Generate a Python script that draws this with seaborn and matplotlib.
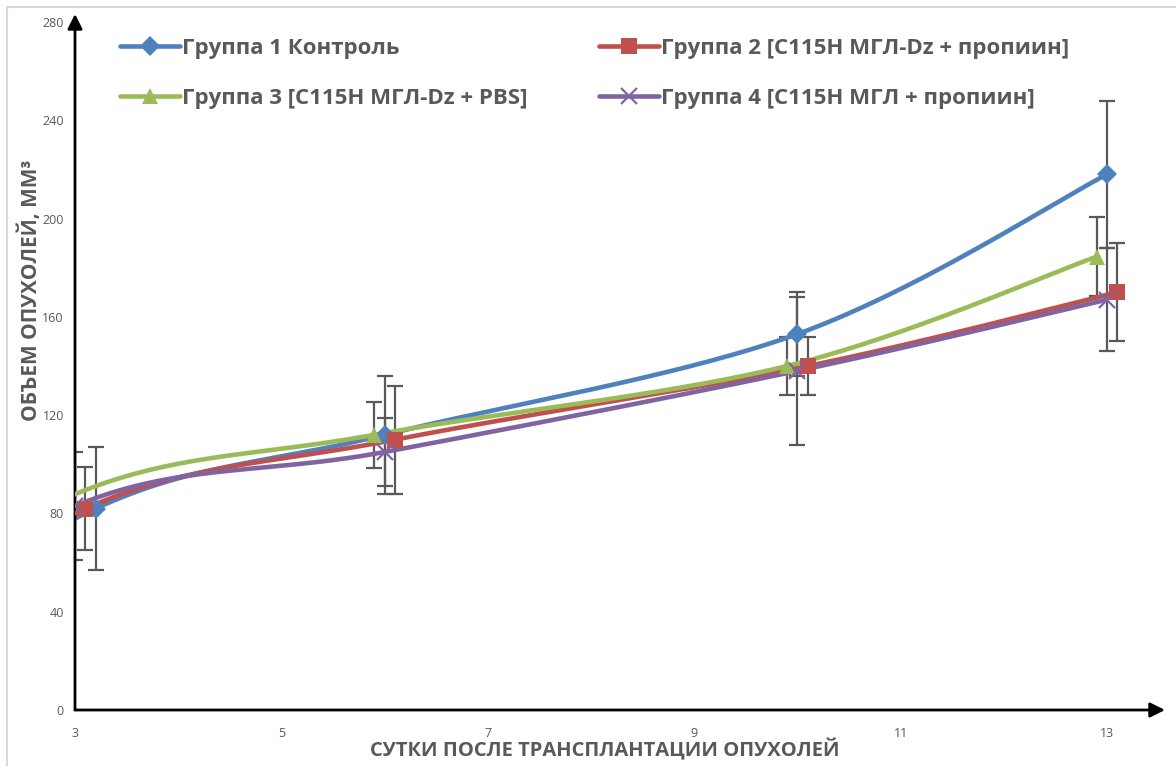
import numpy as np
import matplotlib
matplotlib.use("Agg")
import matplotlib.pyplot as plt
from matplotlib.lines import Line2D
from matplotlib.patches import Rectangle
import seaborn as sns

# ---- data ----
# day 0 (volume 0) lies left of the visible axis range; it only shapes the smoothed curves
labels = ["Группа 1 Контроль",
          "Группа 2 [C115H МГЛ-Dz + пропиин]",
          "Группа 3 [C115H МГЛ-Dz + PBS]",
          "Группа 4 [C115H МГЛ + пропиин]"]
days_g1 = [0.2, 3.2, 6.0, 10.0, 13.0]
vol_g1 = [0, 82, 112, 153, 218]
err_g1 = [0, 25, 24, 17, 30]
days_g2 = [0.1, 3.1, 6.1, 10.1, 13.1]
vol_g2 = [0, 82, 110, 140, 170]
err_g2 = [0, 17, 22, 12, 20]
days_g3 = [-0.1, 2.9, 5.9, 9.9, 12.9]
vol_g3 = [0, 86, 112, 140, 184.5]
err_g3 = [0, 15, 13.5, 12, 16]
days_g4 = [0.0, 3.0, 6.0, 10.0, 13.0]
vol_g4 = [0, 83, 105, 138, 167]
err_g4 = [0, 22, 14, 30, 21]
x_ticks = [3, 5, 7, 9, 11, 13]
y_ticks = [0, 40, 80, 120, 160, 200, 240, 280]

colors = ["#4F81BD", "#C0504D", "#9BBB59", "#8064A2"]
markers = ["D", "s", "^", "x"]
msizes = [10, 11, 11, 11]

sns.set_theme(style="white")
plt.rcParams["font.family"] = ["Open Sans", "DejaVu Sans"]

W, H = 1176, 766
fig = plt.figure(figsize=(W / 100, H / 100), dpi=100)
ax_l, ax_r, ax_t, ax_b = 75, 1150, 22, 710
ax = fig.add_axes([ax_l / W, 1 - ax_b / H, (ax_r - ax_l) / W, (ax_b - ax_t) / H])
xmax = 3 + (ax_r - ax_l) / 103.2
ax.set_xlim(3, xmax)
ax.set_ylim(0, 280)

SX, SY = 103.2, 2.457  # pixels per data unit, smoothing done in screen space


def smooth(xs, ys, n=60):
    P = np.column_stack([np.asarray(xs, float) * SX, np.asarray(ys, float) * SY])
    ext = np.vstack([P[0], P, P[-1]])
    out = []
    t = np.linspace(0, 1, n)[:, None]
    for i in range(len(P) - 1):
        p0, p3 = P[i], P[i + 1]
        p1 = p0 + (ext[i + 2] - ext[i]) / 6.0
        p2 = p3 - (ext[i + 3] - ext[i + 1]) / 6.0
        seg = ((1 - t) ** 3) * p0 + 3 * ((1 - t) ** 2) * t * p1 + 3 * (1 - t) * t ** 2 * p2 + t ** 3 * p3
        out.append(seg if i == 0 else seg[1:])
    C = np.vstack(out)
    return C[:, 0] / SX, C[:, 1] / SY


series = [(days_g1, vol_g1, err_g1), (days_g2, vol_g2, err_g2),
          (days_g3, vol_g3, err_g3), (days_g4, vol_g4, err_g4)]

for i, (xs, ys, es) in enumerate(series):
    ax.errorbar(xs, ys, yerr=es, fmt="none", ecolor="#595959", elinewidth=1.6,
                capsize=6, capthick=1.6, zorder=2)

for i, (xs, ys, es) in enumerate(series):
    sx, sy = smooth(xs, ys)
    sns.lineplot(x=sx, y=sy, sort=False, estimator=None, color=colors[i],
                 linewidth=3.3, ax=ax, zorder=3 + i * 0.1)

for i, (xs, ys, es) in enumerate(series):
    if markers[i] == "x":
        ax.plot(xs, ys, linestyle="none", marker="x", markersize=msizes[i],
                markeredgewidth=1.6, color=colors[i], zorder=4 + i * 0.1)
    else:
        ax.plot(xs, ys, linestyle="none", marker=markers[i], markersize=msizes[i],
                color=colors[i], markeredgewidth=0, zorder=4 + i * 0.1)

# axes styling
for s in ax.spines.values():
    s.set_visible(False)
ax.set_xticks(x_ticks)
ax.set_yticks(y_ticks)
ax.tick_params(axis="both", length=0, labelsize=9, labelcolor="#595959")
ax.tick_params(axis="x", pad=12)
ax.tick_params(axis="y", pad=8)
ax.grid(False)
ax.set_xlabel("")
ax.set_ylabel("")

# arrows for the axes
ax.annotate("", xy=(1 + 15 / (ax_r - ax_l), 0), xytext=(0, 0), xycoords="axes fraction",
            arrowprops=dict(arrowstyle="-|>", lw=2, color="black", mutation_scale=22,
                            shrinkA=0, shrinkB=0), annotation_clip=False)
ax.annotate("", xy=(0, 1 + 8 / (ax_b - ax_t)), xytext=(0, 0), xycoords="axes fraction",
            arrowprops=dict(arrowstyle="-|>", lw=2, color="black", mutation_scale=22,
                            shrinkA=0, shrinkB=0), annotation_clip=False)

# legend (2 columns, filled row by row: 1 2 / 3 4)
handles = []
for i in range(4):
    if markers[i] == "x":
        h = Line2D([], [], color=colors[i], lw=3.3, marker="x", markersize=msizes[i],
                   markeredgewidth=1.6)
    else:
        h = Line2D([], [], color=colors[i], lw=3.3, marker=markers[i], markersize=msizes[i],
                   markeredgewidth=0)
    handles.append(h)
order = [0, 2, 1, 3]
leg = fig.legend([handles[k] for k in order], [labels[k] for k in order], ncol=2,
                 loc="upper left", bbox_to_anchor=(120 / W, 1 - 38 / H), frameon=False,
                 handlelength=2.7, handletextpad=0.1, columnspacing=3.2,
                 labelspacing=1.3, borderpad=0, borderaxespad=0,
                 prop=dict(family=["Open Sans", "DejaVu Sans"], weight="bold", size=16))
for t in leg.get_texts():
    t.set_color("#595959")

# axis titles
fig.text(30 / W, 1 - 290 / H, "ОБЪЕМ ОПУХОЛЕЙ, ММ³", rotation=90, ha="center", va="center",
         fontsize=15, fontweight="bold", color="#595959")
fig.text(605 / W, 1 - 750 / H, "СУТКИ ПОСЛЕ ТРАНСПЛАНТАЦИИ ОПУХОЛЕЙ", ha="center", va="center",
         fontsize=14.5, fontweight="bold", color="#595959")

# outer border
fig.patches.append(Rectangle((7 / W, -0.05), 1.2, 1 - 7 / H + 0.05, transform=fig.transFigure,
                             fill=False, edgecolor="#D9D9D9", lw=1.5, zorder=0))

fig.savefig("out.png", dpi=100)
